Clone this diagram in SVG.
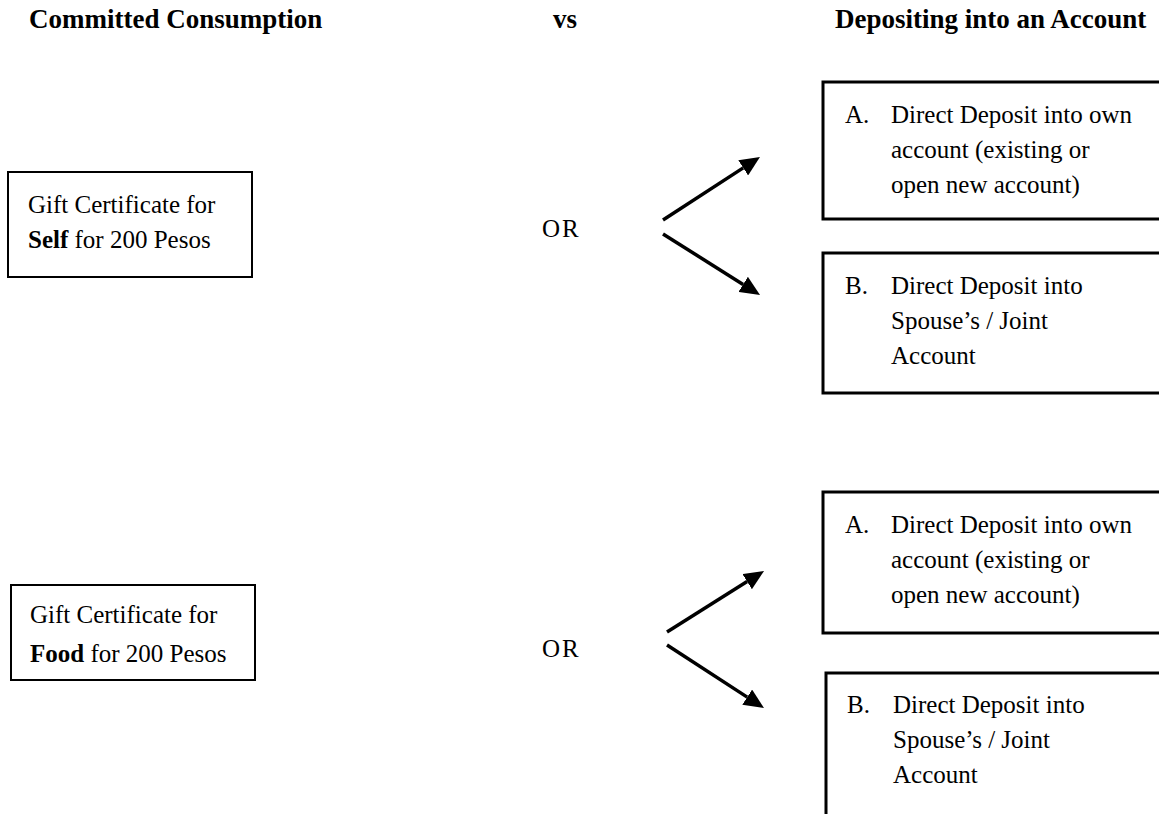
<svg xmlns="http://www.w3.org/2000/svg" width="1159" height="814" viewBox="0 0 1159 814">
<style>
text{font-family:"Liberation Serif","Times New Roman",serif;fill:#000}
.t{font-size:25px}
.h{font-size:27px;font-weight:bold}
.b{font-weight:bold}
.lb{fill:#fff;stroke:#000;stroke-width:2}
.rb{fill:#fff;stroke:#000;stroke-width:3}
.arr{fill:none;stroke:#000;stroke-width:3.5;marker-end:url(#ah)}
</style>
<defs>
<marker id="ah" viewBox="0 -9 20 18" markerWidth="20" markerHeight="18" refX="0" refY="0" orient="auto" markerUnits="userSpaceOnUse">
<path d="M0,-9 L20,0 L0,9 z" fill="#000"/>
</marker>
</defs>
<rect width="1159" height="814" fill="#fff"/>
<g id="headers">
<text class="h" x="29" y="28">Committed Consumption</text>
<text class="h" x="553" y="28">vs</text>
<text class="h" x="835" y="28">Depositing into an Account</text>
</g>
<g id="self">
<rect class="lb" x="8" y="172" width="244" height="105"/>
<text class="t" x="28" y="213">Gift Certificate for</text>
<text class="t" x="28" y="248"><tspan class="b">Self</tspan> for 200 Pesos</text>
</g>
<g id="or1"><text class="t" x="542" y="237" letter-spacing="2">OR</text></g>
<g id="a1">
<rect class="rb" x="823" y="82" width="360" height="137"/>
<text class="t" x="845" y="123">A.</text>
<text class="t" x="891" y="123">Direct Deposit into own</text>
<text class="t" x="891" y="158">account (existing or</text>
<text class="t" x="891" y="193">open new account)</text>
</g>
<g id="b1">
<rect class="rb" x="823" y="253" width="360" height="140"/>
<text class="t" x="845" y="294">B.</text>
<text class="t" x="891" y="294">Direct Deposit into</text>
<text class="t" x="891" y="329">Spouse’s / Joint</text>
<text class="t" x="891" y="364">Account</text>
</g>
<g id="food">
<rect class="lb" x="11" y="585" width="244" height="95"/>
<text class="t" x="30" y="623">Gift Certificate for</text>
<text class="t" x="30" y="662"><tspan class="b">Food</tspan> for 200 Pesos</text>
</g>
<g id="or2"><text class="t" x="542" y="657" letter-spacing="2">OR</text></g>
<g id="a2">
<rect class="rb" x="823" y="492" width="360" height="141"/>
<text class="t" x="845" y="533">A.</text>
<text class="t" x="891" y="533">Direct Deposit into own</text>
<text class="t" x="891" y="568">account (existing or</text>
<text class="t" x="891" y="603">open new account)</text>
</g>
<g id="b2">
<rect class="rb" x="826" y="673" width="360" height="160"/>
<text class="t" x="847" y="713">B.</text>
<text class="t" x="893" y="713">Direct Deposit into</text>
<text class="t" x="893" y="748">Spouse’s / Joint</text>
<text class="t" x="893" y="783">Account</text>
</g>
<g id="connectors">
<path class="arr" d="M663,220 L743.2,167.9"/>
<path class="arr" d="M663,234 L743.1,284.4"/>
<path class="arr" d="M667,632 L747.1,581.6"/>
<path class="arr" d="M667,645 L747.2,697.1"/>
</g>
</svg>
